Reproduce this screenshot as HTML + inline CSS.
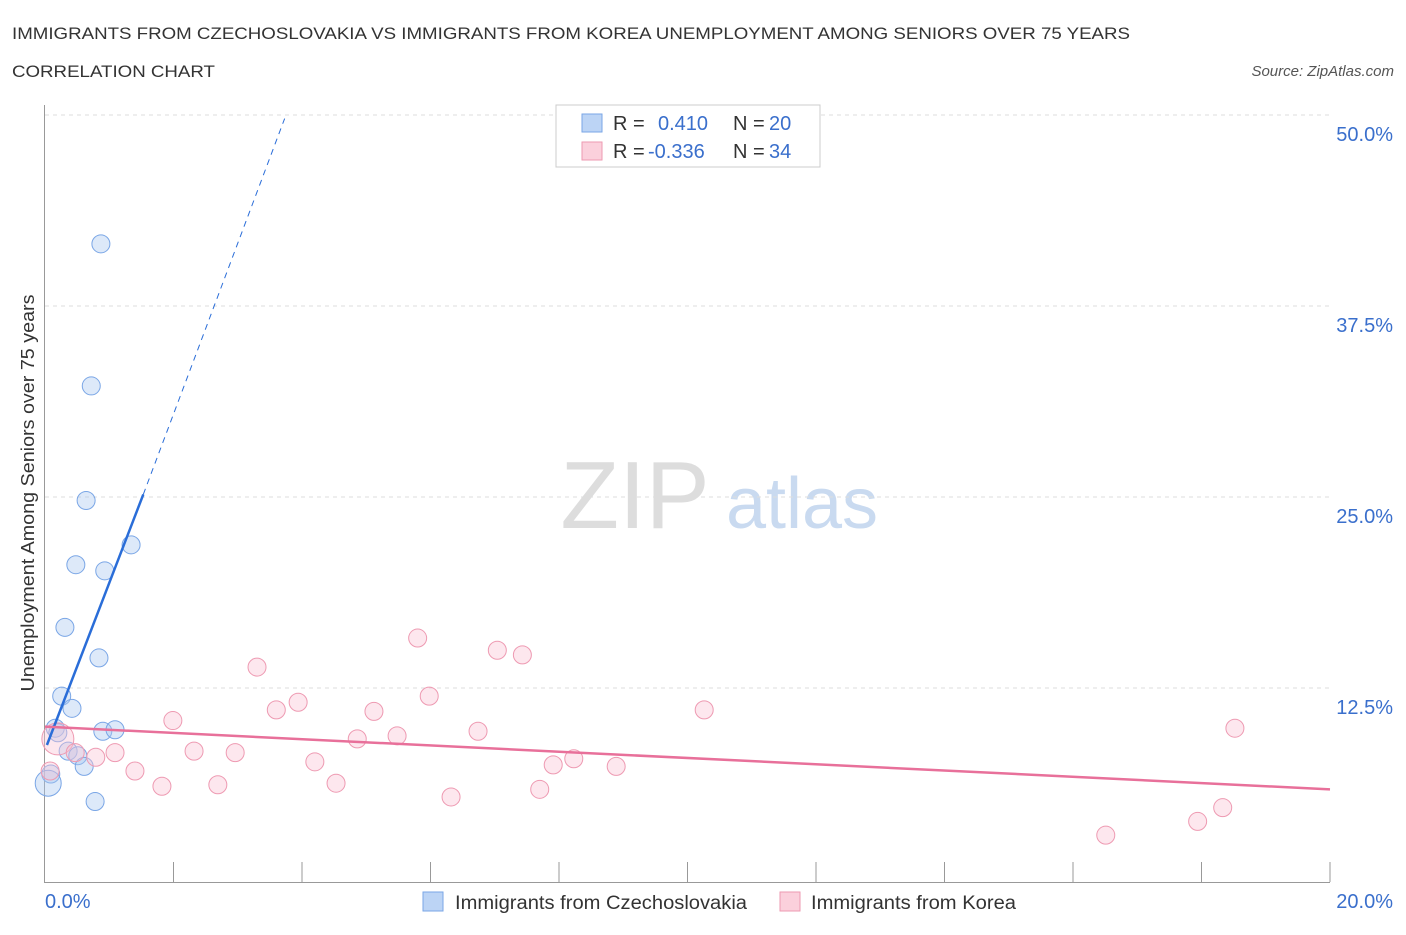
<!DOCTYPE html>
<html><head><meta charset="utf-8"><style>
body{margin:0;background:#fff;font-family:"Liberation Sans",sans-serif;}
svg text{font-family:"Liberation Sans",sans-serif;}
</style></head><body>
<svg id="c" width="1406" height="930">
<text x="12" y="39" font-size="17" fill="#333" textLength="1118" lengthAdjust="spacingAndGlyphs">IMMIGRANTS FROM CZECHOSLOVAKIA VS IMMIGRANTS FROM KOREA UNEMPLOYMENT AMONG SENIORS OVER 75 YEARS</text>
<text x="12" y="77" font-size="17" fill="#333" textLength="203" lengthAdjust="spacingAndGlyphs">CORRELATION CHART</text>
<text x="1394" y="76" font-size="15" fill="#555" font-style="italic" text-anchor="end">Source: ZipAtlas.com</text>
<text x="635" y="528" font-size="96" fill="#ddd" font-family="Liberation Serif" text-anchor="middle">ZIP</text>
<text x="802" y="528" font-size="72" fill="#c9daf0" text-anchor="middle">atlas</text>
<text transform="translate(34,493) rotate(-90)" font-size="18" fill="#333" text-anchor="middle" textLength="397" lengthAdjust="spacingAndGlyphs">Unemployment Among Seniors over 75 years</text>
<g id="grid"></g><g id="marks"></g>
<g>
<rect x="556" y="105" width="264" height="62" fill="#fff" stroke="#ccc"/>
<rect x="582" y="114" width="20" height="18" fill="#bcd4f5" stroke="#7aa6e6"/>
<rect x="582" y="142" width="20" height="18" fill="#fbd0dc" stroke="#ee9ab2"/>
<text x="613" y="130" font-size="20" fill="#333">R = </text><text x="658" y="130" font-size="20" fill="#3a6fcc">0.410</text>
<text x="733" y="130" font-size="20" fill="#333">N = </text><text x="769" y="130" font-size="20" fill="#3a6fcc">20</text>
<text x="613" y="158" font-size="20" fill="#333">R = </text><text x="648" y="158" font-size="20" fill="#3a6fcc">-0.336</text>
<text x="733" y="158" font-size="20" fill="#333">N = </text><text x="769" y="158" font-size="20" fill="#3a6fcc">34</text>
</g>
<g>
<rect x="423" y="892" width="20" height="19" fill="#bcd4f5" stroke="#7aa6e6"/>
<text x="455" y="909" font-size="19" fill="#333" textLength="292" lengthAdjust="spacingAndGlyphs">Immigrants from Czechoslovakia</text>
<rect x="780" y="892" width="20" height="19" fill="#fbd0dc" stroke="#ee9ab2"/>
<text x="811" y="909" font-size="19" fill="#333" textLength="205" lengthAdjust="spacingAndGlyphs">Immigrants from Korea</text>
</g>
</svg>
<script>
const blueX=[0.87,0.72,0.64,1.34,0.48,0.93,0.31,0.84,0.26,0.42,0.16,0.20,0.90,1.09,0.36,0.51,0.61,0.09,0.05,0.78];
const blueY=[41.7,32.4,24.9,22.0,20.7,20.3,16.6,14.6,12.1,11.3,10.0,9.7,9.8,9.9,8.5,8.2,7.5,7.0,6.4,5.2];
const blueR=[9,9,9,9,9,9,9,9,9,9,9,9,9,9,9,9,9,9,13,9];
const pinkX=[0.20,0.08,0.47,0.79,1.09,1.40,1.82,1.99,2.32,2.69,2.96,3.30,3.60,3.94,4.20,4.53,4.86,5.12,5.48,5.80,5.98,6.32,6.74,7.04,7.43,7.70,7.91,8.23,8.89,10.26,16.51,17.94,18.33,18.52];
const pinkY=[9.3,7.2,8.4,8.1,8.4,7.2,6.2,10.5,8.5,6.3,8.4,14.0,11.2,11.7,7.8,6.4,9.3,11.1,9.5,15.9,12.1,5.5,9.8,15.1,14.8,6.0,7.6,8.0,7.5,11.2,3.0,3.9,4.8,10.0];
const pinkR=[16,9,9,9,9,9,9,9,9,9,9,9,9,9,9,9,9,9,9,9,9,9,9,9,9,9,9,9,9,9,9,9,9,9];
const yTicks=[12.5,25,37.5,50];
const xTickCount=10;
const ns="http://www.w3.org/2000/svg";
const X=v=>45+v*64.25, Y=v=>881-v*15.28;
function mk(t,a,p){const e=document.createElementNS(ns,t);for(const k in a)e.setAttribute(k,a[k]);p.appendChild(e);return e;}
const g=document.getElementById('grid'), m=document.getElementById('marks');
yTicks.forEach(t=>{
 const l=mk('line',{x1:45,x2:1330,y1:Y(t)-2,y2:Y(t)-2,stroke:'#ddd','stroke-dasharray':'4,4'},g);
 
 
 const tx=mk('text',{x:1393,y:Y(t)+24,'font-size':20,fill:'#3a6fcc','text-anchor':'end'},g);
 tx.textContent=t.toFixed(1)+'%';
 
 
});
mk('line',{x1:44.5,x2:44.5,y1:105,y2:882,stroke:'#999'},g);
mk('line',{x1:44,x2:1330,y1:882.5,y2:882.5,stroke:'#999'},g);
for(let i=1;i<=xTickCount;i++){const x=X(i*2);mk('line',{x1:x,x2:x,y1:862,y2:882,stroke:'#999'},g);}
let t1=mk('text',{x:45,y:908,'font-size':20,fill:'#3a6fcc'},g);t1.textContent='0.0%';


let t2=mk('text',{x:1393,y:908,'font-size':20,fill:'#3a6fcc','text-anchor':'end'},g);t2.textContent='20.0%';


blueX.forEach((v,i)=>{const c=mk('circle',{cx:X(v),cy:Y(blueY[i]),r:blueR[i],fill:'rgba(170,200,240,0.4)',stroke:'#7aa6e6','stroke-width':1},m);
 
 });
pinkX.forEach((v,i)=>{const c=mk('circle',{cx:X(v),cy:Y(pinkY[i]),r:pinkR[i],fill:'rgba(250,195,212,0.4)',stroke:'#ee9ab2','stroke-width':1},m);
 
 });
const bl=mk('line',{x1:X(0.03),y1:Y(8.9),x2:X(1.53),y2:Y(25.3),stroke:'#2a6dd8','stroke-width':2.5},m);


const bd=mk('line',{x1:X(1.53),y1:Y(25.3),x2:X(3.73),y2:Y(49.9),stroke:'#2a6dd8','stroke-width':1,'stroke-dasharray':'6,5'},m);


const pl=mk('line',{x1:X(0),y1:Y(10.1),x2:X(20),y2:Y(6.0),stroke:'#e8709a','stroke-width':2.5},m);


</script>
</body></html>
